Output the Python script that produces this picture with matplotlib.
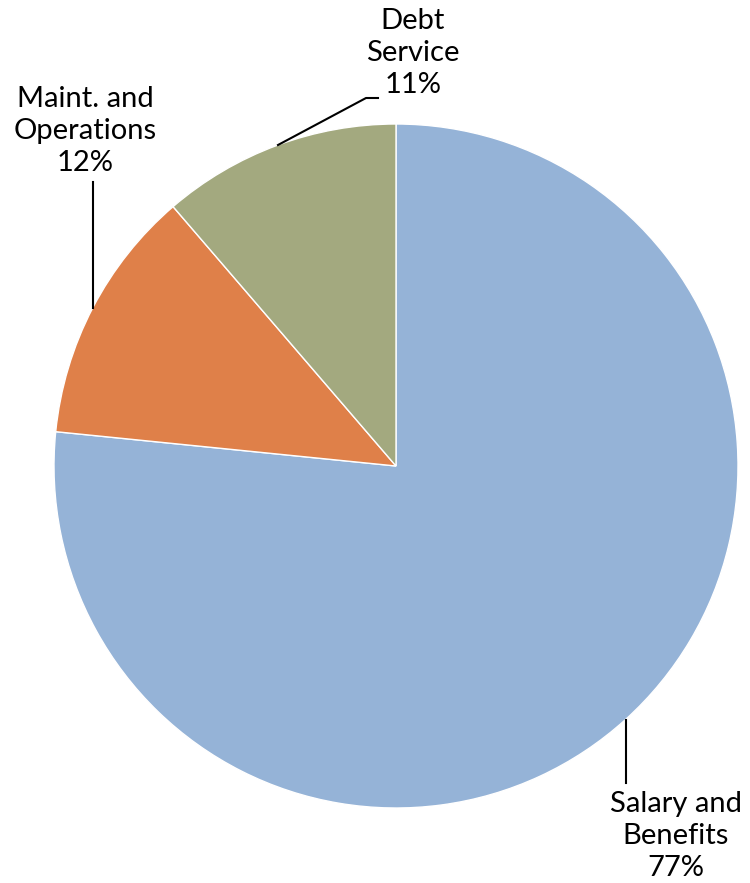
"""Budget share pie chart."""

import matplotlib
matplotlib.use('Agg')
import matplotlib.pyplot as plt

labels = ['Salary and\nBenefits', 'Maint. and\nOperations', 'Debt\nService']
shares = [76.6, 12.1, 11.3]
colors = ['#95B3D7', '#DF8049', '#A3A97F']

plt.rcParams['font.family'] = ['Lato', 'DejaVu Sans']

fig = plt.figure(figsize=(7.5, 8.83), dpi=100)
ax = fig.add_axes([0, 0, 1, 1])

cx, cy, r = 396, 883 - 466, 342
ax.pie(shares, colors=colors, startangle=90, counterclock=False,
       center=(cx, cy), radius=r, frame=True,
       wedgeprops=dict(edgecolor='white', linewidth=1))
ax.set_xlim(0, 750)
ax.set_ylim(0, 883)
ax.set_aspect('equal')
ax.axis('off')

# labels with leader lines (pixel coords, y from top)
def lab(text, pct, x, y, line):
    ax.text(x, 883 - y, f'{text}\n{pct:.0f}%', ha='center', va='center',
            fontsize=21, linespacing=1.3)
    xs, ys = zip(*line)
    ax.plot(xs, [883 - v for v in ys], color='black', lw=1.5)

lab(labels[0], shares[0], 676, 836, [(626, 720), (626, 783)])
lab(labels[1], shares[1], 85, 131, [(93, 182), (93, 308)])
lab(labels[2], shares[2], 413, 53, [(278, 145), (366, 98), (378, 98)])

fig.savefig('out.png', dpi=100)
